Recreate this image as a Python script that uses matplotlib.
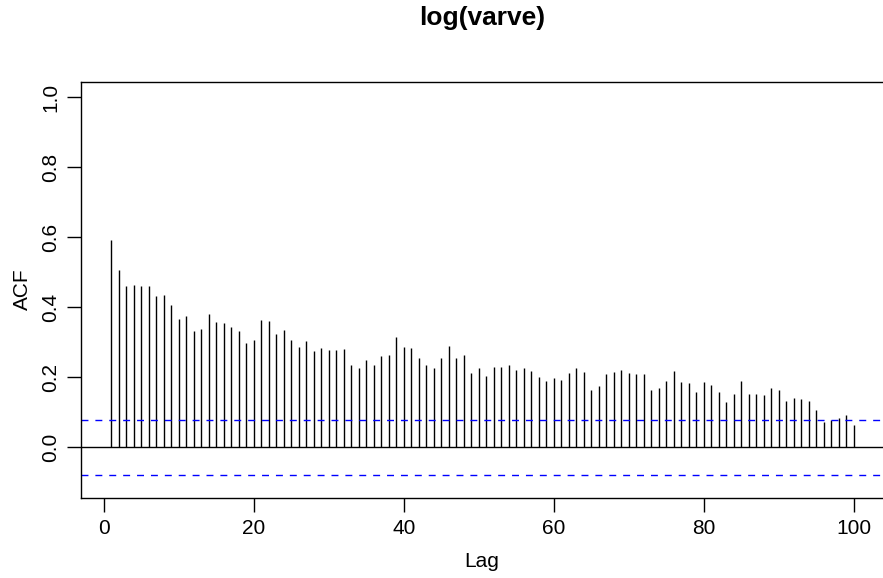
"""ACF plot of log(varve), R / astsa style."""

import matplotlib.pyplot as plt
import numpy as np

plt.rcParams["font.family"] = ["Liberation Sans", "DejaVu Sans"]

# autocorrelations for lags 1..100
lags = np.arange(1, 101)
acf = [
    0.592, 0.508, 0.461, 0.463, 0.460, 0.460, 0.431, 0.434, 0.406, 0.367,
    0.374, 0.331, 0.337, 0.380, 0.357, 0.354, 0.343, 0.332, 0.299, 0.308,
    0.365, 0.360, 0.325, 0.335, 0.308, 0.288, 0.303, 0.274, 0.284, 0.277,
    0.279, 0.282, 0.234, 0.228, 0.249, 0.234, 0.260, 0.264, 0.315, 0.288,
    0.284, 0.256, 0.234, 0.228, 0.254, 0.289, 0.255, 0.265, 0.213, 0.226,
    0.203, 0.230, 0.230, 0.236, 0.220, 0.228, 0.218, 0.200, 0.189, 0.199,
    0.193, 0.211, 0.226, 0.214, 0.165, 0.175, 0.209, 0.215, 0.222, 0.213,
    0.210, 0.210, 0.165, 0.170, 0.190, 0.219, 0.188, 0.185, 0.157, 0.186,
    0.179, 0.158, 0.129, 0.153, 0.190, 0.153, 0.151, 0.150, 0.170, 0.163,
    0.133, 0.141, 0.137, 0.133, 0.106, 0.072, 0.079, 0.084, 0.092, 0.064,
]
n_obs = 634
bound = 1.96 / np.sqrt(n_obs)

W, H = 883, 578
fig = plt.figure(figsize=(W / 100, H / 100), dpi=100)
left, right, top, bottom = 81.3, 883.7, 82.0, 497.7
ax = fig.add_axes([left / W, 1 - bottom / H, (right - left) / W, (bottom - top) / H])

ax.vlines(lags, 0, acf, color="black", linewidth=1.0)
ax.axhline(0, color="black", linewidth=1.0)
for b in (bound, -bound):
    ax.axhline(b, color="blue", linewidth=1.0, linestyle=(0, (5, 5)))

ax.set_xlim(1 - 0.04 * 99, 100 + 0.04 * 99)
ax.set_ylim(-0.1 - 0.044, 1.0 + 0.044)

ax.set_xticks(np.arange(0, 101, 20))
ax.set_yticks(np.arange(0, 1.01, 0.2))
ax.set_yticklabels([f"{v:.1f}" for v in np.arange(0, 1.01, 0.2)], rotation=90, va="center")
ax.tick_params(axis="both", direction="out", length=10.4, width=1.0, labelsize=15, pad=5)
for spine in ax.spines.values():
    spine.set_linewidth(1.0)
ax.spines["right"].set_visible(False)

fig.text(482.5 / W, 1 - 25 / H, "log(varve)", ha="center", va="baseline",
         fontsize=19, fontweight="bold")
fig.text(482 / W, 1 - 566.7 / H, "Lag", ha="center", va="baseline", fontsize=15)
fig.text(22 / W, 1 - 289 / H, "ACF", ha="center", va="center", fontsize=15, rotation=90)

fig.savefig("out.png", dpi=100)
